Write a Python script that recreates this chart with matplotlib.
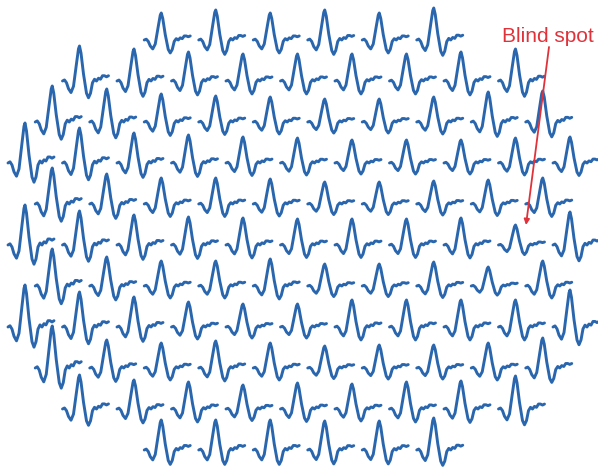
import matplotlib
matplotlib.use("Agg")
import matplotlib.pyplot as plt

# hex grid of local responses: one list per row, top to bottom.
# FIRST_COL is the half-step column of the leftmost response in that row.
FIRST_COL = [5, 2, 1, 0, 1, 0, 1, 0, 1, 2, 5]

# P1 amplitude of each local response (left to right)
P1_AMP = [
    [27, 30, 27, 30, 27, 32],
    [35, 32, 29, 27, 27, 27, 27, 29, 32],
    [36, 33, 28, 26, 25, 23, 23, 25, 30, 31],
    [40, 35, 30, 28, 26, 25, 23, 23, 23, 25, 26],
    [36, 30, 26, 26, 25, 22, 22, 23, 24, 26],
    [40, 34, 30, 28, 27, 26, 26, 26, 27, 20, 33],
    [37, 29, 25, 25, 27, 22, 22, 24, 19, 25],
    [42, 35, 30, 25, 23, 23, 27, 27, 27, 27, 37],
    [42, 28, 25, 27, 25, 22, 23, 23, 25, 30],
    [34, 29, 27, 24, 26, 25, 27, 28, 33],
    [30, 30, 30, 29, 29, 32],
]

# averaged first-order kernel: time step and level relative to P1
WAVE_T = [0, 2, 4, 6, 8.5, 11, 14, 16, 17, 18.5, 21, 24, 26, 28, 30, 32, 34, 36, 38, 40, 42, 44, 46]
WAVE_V = [0, 0.03, -0.05, -0.22, -0.33, -0.15, 0.5, 0.92, 1.0, 0.8, 0.2, -0.35,
          -0.48, -0.35, -0.05, 0.05, 0.0, 0.08, 0.05, 0.15, 0.15, 0.12, 0.15]

BLUE = "#2a66ad"
RED = "#e0323a"

X0, COL_STEP = 8, 27.25
Y0, ROW_STEP = 40, 41

fig = plt.figure(figsize=(5.98, 4.68), dpi=100)
ax = fig.add_axes([0, 0, 1, 1])
ax.set_xlim(0, 598)
ax.set_ylim(468, 0)
ax.axis("off")

for r, (c0, amps) in enumerate(zip(FIRST_COL, P1_AMP)):
    base = Y0 + r * ROW_STEP
    for k, a in enumerate(amps):
        x_start = X0 + (c0 + 2 * k) * COL_STEP
        xs = [x_start + t for t in WAVE_T]
        ys = [base - a * v for v in WAVE_V]
        ax.plot(xs, ys, color=BLUE, lw=2.1, solid_joinstyle="round", solid_capstyle="round")

ax.text(502, 42, "Blind spot", color=RED, fontsize=15, family="Liberation Sans", va="baseline")
ax.annotate("", xy=(526, 225), xytext=(549, 47),
            arrowprops=dict(arrowstyle="-|>", color=RED, lw=1.3, mutation_scale=8,
                            shrinkA=0, shrinkB=0))

fig.savefig("out.png", dpi=100)
